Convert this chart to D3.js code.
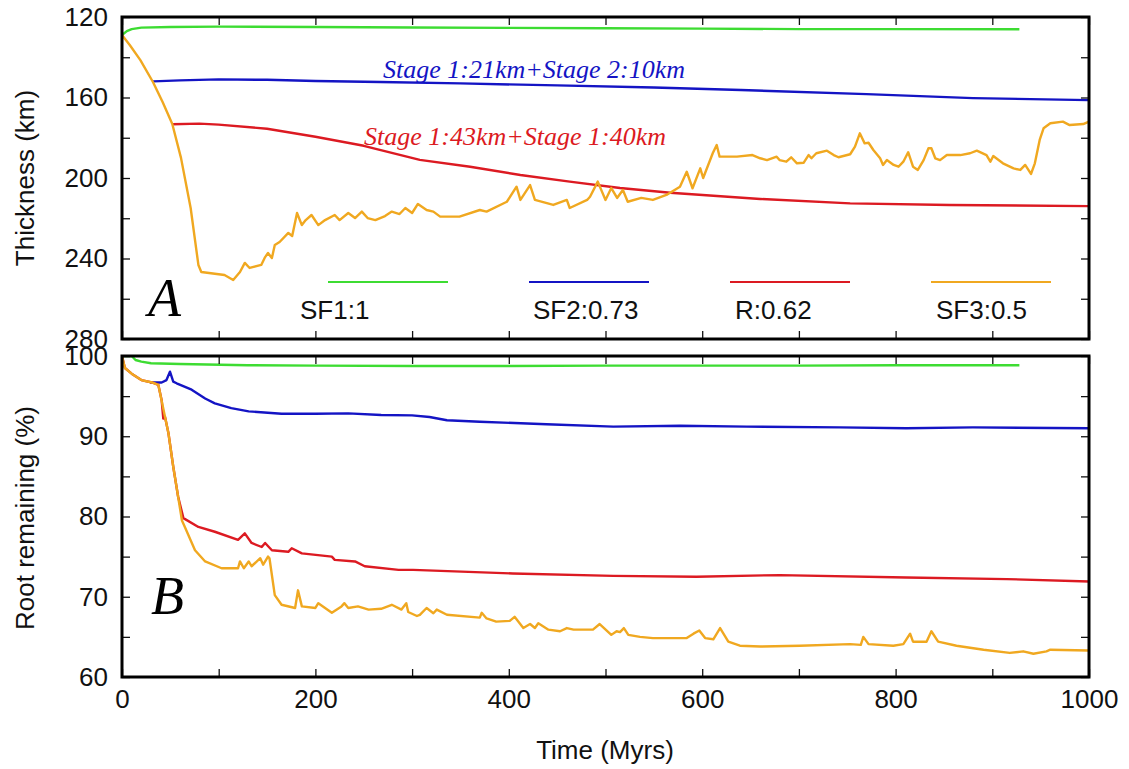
<html>
<head>
<meta charset="utf-8" />
<script src="https://d3js.org/d3.v7.min.js"></script>
<style>
  body { margin: 0; background: #fff; }
  .tick text { font-family: "Liberation Sans", Arial, sans-serif; font-size: 26px; fill: #111; }
  .tick line { stroke: #111; stroke-width: 1.3; }
</style>
</head>
<body>
<svg id="chart" width="1129" height="769"></svg>
<script>
// ---- data (time in Myrs, thickness in km / root remaining in %) ----
var sf1Thick = [[0,129],[5,127],[10,126],[20,125.3],[50,125],[100,124.8],[200,125],[300,125.2],
  [400,125.4],[500,125.6],[600,125.8],[700,126],[800,126],[928,126.1]];
var sf2Thick = [[32,152],[60,151.5],[100,151],[150,151.2],[200,151.8],[267,152.3],[350,153],
  [450,154],[550,155],[640,156.3],[770,158.3],[880,160.3],[1000,161.3]];
var rThick = [[52,173.3],[80,173],[100,173.5],[150,175.5],[200,179.5],[250,184],[308,191],
  [360,194.4],[412,198.5],[463,201.8],[515,205],[567,207.3],[660,210.4],[753,212.6],[856,213.4],[1000,214]];
var sf3Thick = [[0,129],[8,133.9],[19,141.4],[32,152.3],[42,162.2],[52,173.2],[61,190],[71,214.9],
  [79,243.2],[82,246.7],[106,248.2],[115,250.7],[122,246.7],[127,242.2],[132,244.7],[144,243.2],
  [148,239.3],[151,237.3],[155,239.8],[158,233.3],[163,231.8],[172,227.3],[176,228.8],[181,217.4],
  [186,223.4],[190,220.9],[196,218.4],[203,223.4],[210,220.9],[220,218.4],[225,220.9],[234,217.4],
  [241,219.9],[248,216.7],[254,219.9],[262,220.9],[272,218.9],[279,216.7],[287,217.9],[293,214.9],
  [300,217.4],[306,212.9],[315,215.9],[322,216.7],[329,219.2],[349,219.2],[370,215.9],[377,216.7],
  [398,211.8],[408,204.3],[412,210.9],[422,203.5],[427,210.9],[446,213.4],[460,210.9],[463,214.9],
  [481,210.9],[484,209.3],[492,201.8],[500,210.9],[506,205],[512,209.9],[518,206],[523,211.8],
  [537,209.9],[549,210.9],[563,208.4],[577,204.3],[584,196.9],[590,205.1],[598,195.2],[601,200],
  [611,187.6],[615,183.6],[618,189.4],[636,189.4],[652,188.6],[660,190.2],[667,191.1],[677,189.4],
  [680,191.1],[687,191.9],[692,189.7],[698,192.7],[705,192.4],[710,188.6],[713,190.2],[718,187.7],
  [729,186.4],[736,188.6],[741,189.7],[753,188.2],[758,184.4],[763,177.8],[768,182.8],[772,182.5],
  [777,186.1],[784,190.2],[787,193.5],[791,191.1],[798,193.5],[803,194.4],[808,191.9],[813,187.2],
  [818,194.4],[823,196],[829,191.1],[834,185.2],[837,185.2],[841,190.2],[846,191.1],[853,188.6],
  [867,188.6],[877,187.7],[884,186.4],[894,188.6],[898,191.9],[901,189.1],[911,192.7],[922,195.2],
  [929,196],[934,193.5],[940,198],[944,192.7],[949,181.1],[953,175.3],[960,172.8],[973,172],
  [980,173.7],[994,173.2],[1000,172]];

var sf1Root = [[0,100],[10,100],[14,99.5],[20,99.3],[30,99.1],[60,99],[130,98.85],[200,98.8],
  [300,98.75],[400,98.75],[500,98.8],[600,98.8],[700,98.8],[800,98.85],[928,98.85]];
var sf2Root = [[29,96.7],[41,96.7],[46,97],[49.6,98.05],[53,96.8],[56.5,96.6],[72,95.8],[86,94.7],
  [96,94.1],[113,93.5],[131,93.1],[165,92.8],[200,92.8],[234,92.85],[268,92.65],[300,92.6],
  [318,92.4],[336,92],[370,91.8],[439,91.5],[508,91.2],[577,91.3],[646,91.2],[742,91.1],
  [811,91],[880,91.1],[1000,91]];
var rRoot = [[0,100],[3,98.5],[10,97.8],[20,97],[31,96.7],[37.6,96.4],[41,94.5],[42.7,92.2],
  [44.5,92.4],[48,90.4],[53,86.2],[58,82.5],[63.5,79.8],[79,78.7],[96,78.1],[120,77.1],[127,77.9],
  [134,76.7],[144.5,76.2],[148,76.7],[155,75.8],[172,75.6],[175.5,76.05],[186,75.4],[217,75],
  [220,74.6],[241,74.4],[251,73.8],[286,73.35],[301,73.35],[404,72.9],[508,72.6],[594,72.5],
  [680,72.7],[811,72.4],[915,72.2],[1000,71.9]];
var sf3Root = [[0,100],[3,98.5],[10,97.8],[20,97],[31,96.7],[37.6,96.4],[44.5,92.4],[48,90.4],
  [53,86.2],[58,82.5],[62,79.5],[65,78.7],[75.5,75.8],[86,74.4],[103,73.55],[120,73.55],[122,74.4],
  [126,73.55],[131,74.4],[134,73.8],[143,74.8],[146,74],[151,75],[152.5,74.8],[158,70.2],[165,69],
  [179,68.6],[182,70.8],[186,68.8],[200,68.6],[203,69.2],[217,68],[227,68.8],[230,69.2],[234,68.6],
  [244,68.8],[255,68.4],[268,68.5],[279,69],[289,68.4],[294,69.2],[296,68.1],[305,67.6],[308,67.75],
  [315,68.6],[322,67.95],[325.5,68.4],[336,67.75],[370,67.4],[372,68],[377,67.3],[387,66.9],
  [401,67],[406,67.5],[415,66.1],[422,66.6],[427,66.1],[430.5,66.7],[441,65.9],[453,65.7],
  [460,66.1],[467,65.9],[487,65.9],[494,66.6],[506,65.25],[511.5,65.7],[515,65.6],[519,66.1],
  [523.6,65.25],[535.7,65],[549,64.85],[584,64.85],[591,65.4],[597,65.8],[603,64.85],[611.5,64.7],
  [618.5,66.1],[627,64.4],[639,63.9],[660,63.8],[701,63.9],[753,64.1],[764,64],[766.6,65],
  [772,64.1],[797.6,63.9],[808,64.1],[815,65.4],[818,64.4],[832,64.4],[837,65.7],[844,64.4],
  [863,63.9],[891,63.4],[918,63],[932,63.2],[942.5,62.9],[956,63.2],[960,63.4],[999,63.3]];

var seriesNames = ["SF1:1", "SF2:0.73", "R:0.62", "SF3:0.5"];
var seriesColors = ["#3ddc32", "#1414c4", "#dc1a22", "#f0a820"];
var xTicks = [0, 200, 400, 600, 800, 1000];
var thickTicks = [120, 160, 200, 240, 280];
var rootTicks = [60, 70, 80, 90, 100];
var notes = ["Stage 1:21km+Stage 2:10km", "Stage 1:43km+Stage 1:40km"];

// ---- layout ----
var svg = d3.select("#chart");
var left = 122, right = 1089;
var x = d3.scaleLinear().domain([0, 1000]).range([left, right]);
var yTop = d3.scaleLinear().domain([120, 280]).range([17, 339]);
var yBot = d3.scaleLinear().domain([60, 100]).range([677, 356]);

function clip(id, y) {
  var r = y.range();
  svg.append("clipPath").attr("id", id).append("rect")
    .attr("x", left).attr("y", Math.min(r[0], r[1]))
    .attr("width", right - left)
    .attr("height", Math.abs(r[1] - r[0]));
}
clip("clipTop", yTop);
clip("clipBot", yBot);

function drawLines(y, list, clipId) {
  var line = d3.line().x(d => x(d[0])).y(d => y(d[1]));
  var g = svg.append("g").attr("clip-path", "url(#" + clipId + ")");
  list.forEach(function (s, i) {
    g.append("path").datum(s)
      .attr("fill", "none")
      .attr("stroke", seriesColors[i])
      .attr("stroke-width", 2.4)
      .attr("stroke-linejoin", "round")
      .attr("d", line);
  });
}

function range(a, b, step) { return d3.range(a, b + step / 2, step); }

function frame(y, majorY, minorStep, showX) {
  var top = Math.min(y.range()[0], y.range()[1]);
  var bot = Math.max(y.range()[0], y.range()[1]);
  var dom = y.domain();
  var yAll = range(Math.min(dom[0], dom[1]), Math.max(dom[0], dom[1]), minorStep);
  var xAll = range(0, 1000, 100);
  // bottom x ticks
  svg.append("g").attr("transform", "translate(0," + bot + ")")
    .call(d3.axisBottom(x).tickValues(xAll).tickSize(-8).tickPadding(13)
      .tickFormat(d => (showX && xTicks.includes(d)) ? d : ""));
  // top x ticks
  svg.append("g").attr("transform", "translate(0," + top + ")")
    .call(d3.axisTop(x).tickValues(xAll).tickSize(-8).tickFormat(""));
  // left y ticks + labels
  svg.append("g").attr("transform", "translate(" + left + ",0)")
    .call(d3.axisLeft(y).tickValues(yAll).tickSize(-8).tickPadding(14)
      .tickFormat(d => majorY.includes(d) ? d : ""));
  // right y ticks
  svg.append("g").attr("transform", "translate(" + right + ",0)")
    .call(d3.axisRight(y).tickValues(yAll).tickSize(-8).tickFormat(""));
  svg.selectAll(".domain").remove();
  svg.append("rect")
    .attr("x", left).attr("y", top)
    .attr("width", right - left).attr("height", bot - top)
    .attr("fill", "none").attr("stroke", "#000").attr("stroke-width", 3);
}

// panel A
drawLines(yTop, [sf1Thick, sf2Thick, rThick, sf3Thick], "clipTop");
frame(yTop, thickTicks, 20, false);

// panel B
drawLines(yBot, [sf1Root, sf2Root, rRoot, sf3Root], "clipBot");
frame(yBot, rootTicks, 5, true);

// legend inside panel A
var legLineX = [328, 529, 730, 931];
var legTextX = [300, 533, 735, 936];
seriesNames.forEach(function (name, i) {
  svg.append("line")
    .attr("x1", legLineX[i]).attr("x2", legLineX[i] + 120)
    .attr("y1", 282).attr("y2", 282)
    .attr("stroke", seriesColors[i]).attr("stroke-width", 2);
  svg.append("text")
    .attr("x", legTextX[i]).attr("y", 319)
    .style("font-family", "Liberation Sans, Arial, sans-serif")
    .style("font-size", "26px").attr("fill", "#111")
    .text(name);
});

// annotations
svg.append("text").attr("x", 383).attr("y", 78)
  .style("font-family", "Liberation Serif, Times New Roman, serif")
  .style("font-style", "italic").style("font-size", "26px")
  .attr("fill", seriesColors[1]).text(notes[0]);
svg.append("text").attr("x", 364).attr("y", 145)
  .style("font-family", "Liberation Serif, Times New Roman, serif")
  .style("font-style", "italic").style("font-size", "26px")
  .attr("fill", seriesColors[2]).text(notes[1]);

// panel letters
[["A", 148, 316], ["B", 151, 614]].forEach(function (p) {
  svg.append("text").attr("x", p[1]).attr("y", p[2])
    .style("font-family", "Liberation Serif, Times New Roman, serif")
    .style("font-style", "italic").style("font-size", "54px")
    .attr("fill", "#000").text(p[0]);
});

// axis titles
function title(txt, tx, ty, rot) {
  svg.append("text")
    .attr("transform", "translate(" + tx + "," + ty + ")" + (rot ? " rotate(-90)" : ""))
    .attr("text-anchor", "middle")
    .style("font-family", "Liberation Sans, Arial, sans-serif")
    .style("font-size", "26px").attr("fill", "#111")
    .text(txt);
}
title("Thickness (km)", 34, 178, true);
title("Root remaining (%)", 34, 518, true);
title("Time (Myrs)", 605, 759, false);
</script>
</body>
</html>
